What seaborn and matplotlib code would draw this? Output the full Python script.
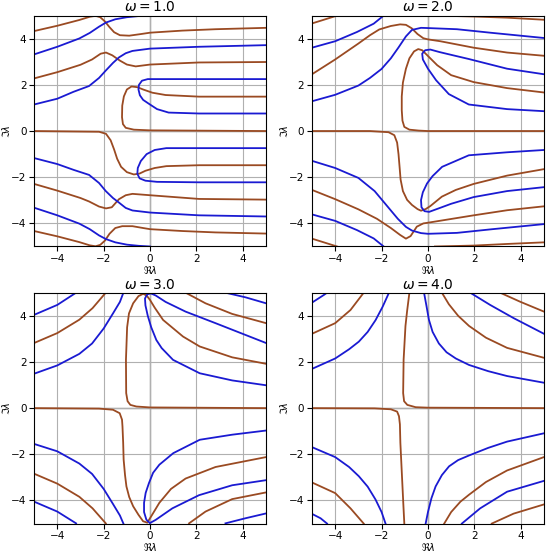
import numpy as np
import matplotlib
matplotlib.use("Agg")
import matplotlib.pyplot as plt
import seaborn as sns

# contour lines: blue = Re branch, brown = Im branch
omegas = [1.0, 2.0, 3.0, 4.0]

w1_blue = [
    [(-5, 3.32), (-4, 3.65), (-3.05, 4.01), (-2.6, 4.25), (-2.2, 4.52), (-1.9, 4.70), (-1.5, 4.84), (-1.0, 4.93), (-0.5, 4.98), (0, 5.0)],
    [(-5, 1.15), (-4, 1.40), (-3.3, 1.70), (-2.63, 1.95), (-2.2, 2.30), (-1.91, 2.62), (-1.6, 2.95), (-1.34, 3.19), (-1.05, 3.37), (-0.76, 3.47), (0, 3.57), (2.11, 3.65), (5, 3.72)],
    [(5, 2.25), (-0.1, 2.25), (-0.35, 2.18), (-0.48, 2.0), (-0.5, 1.8), (-0.44, 1.55), (-0.3, 1.35), (-0.05, 1.18), (0.3, 0.95), (0.8, 0.80), (2.11, 0.76), (5, 0.76)],
    [(5, -0.74), (0.7, -0.74), (0.2, -0.82), (-0.15, -1.0), (-0.4, -1.3), (-0.53, -1.6), (-0.55, -1.85), (-0.45, -2.05), (-0.2, -2.15), (0.3, -2.2), (2.11, -2.22), (5, -2.22)],
    [(-5, -1.17), (-4, -1.43), (-3.3, -1.68), (-2.63, -1.90), (-2.2, -2.25), (-1.91, -2.60), (-1.6, -2.90), (-1.34, -3.10), (-1.05, -3.33), (-0.76, -3.44), (0, -3.53), (2.11, -3.65), (5, -3.70)],
    [(-5, -3.32), (-4, -3.65), (-3.05, -4.01), (-2.6, -4.25), (-2.2, -4.52), (-1.9, -4.68), (-1.5, -4.82), (-1.0, -4.92), (-0.5, -4.97), (0, -5.0)],
]
w1_brown = [
    [(-5, 4.33), (-4, 4.56), (-3.05, 4.81), (-2.6, 4.95), (-2.35, 4.99), (-2.15, 4.93), (-1.95, 4.75), (-1.75, 4.50), (-1.55, 4.28), (-1.3, 4.15), (-0.9, 4.13), (-0.4, 4.20), (0, 4.26), (1.39, 4.35), (2.82, 4.41), (5, 4.47)],
    [(-5, 2.28), (-4, 2.55), (-3, 2.87), (-2.5, 3.10), (-2.13, 3.35), (-1.9, 3.40), (-1.63, 3.28), (-1.3, 3.05), (-1.0, 2.88), (-0.62, 2.80), (0, 2.88), (2.11, 2.97), (5, 2.99)],
    [(5, 1.49), (2.11, 1.49), (0.67, 1.56), (0.1, 1.66), (-0.3, 1.80), (-0.55, 1.90), (-0.8, 1.93), (-1.0, 1.80), (-1.13, 1.50), (-1.2, 1.10), (-1.21, 0.60), (-1.17, 0.30), (-1.05, 0.14), (-0.7, 0.06), (0, 0.03), (5, 0.0)],
    [(-5, 0), (-2.2, -0.03), (-1.9, -0.12), (-1.7, -0.40), (-1.55, -0.80), (-1.42, -1.20), (-1.25, -1.55), (-1.0, -1.78), (-0.7, -1.88), (-0.45, -1.84), (-0.2, -1.72), (0.2, -1.60), (0.7, -1.52), (2.11, -1.48), (5, -1.48)],
    [(-5, -2.29), (-4, -2.58), (-3, -2.90), (-2.63, -3.05), (-2.2, -3.27), (-1.9, -3.35), (-1.65, -3.30), (-1.34, -2.95), (-1.05, -2.78), (-0.76, -2.72), (0, -2.78), (2.11, -2.94), (5, -2.97)],
    [(-5, -4.33), (-4, -4.56), (-3.05, -4.81), (-2.6, -4.95), (-2.35, -4.99), (-2.15, -4.93), (-1.95, -4.75), (-1.75, -4.45), (-1.5, -4.20), (-1.2, -4.12), (-0.76, -4.12), (-0.3, -4.20), (0, -4.25), (1.39, -4.33), (2.82, -4.39), (5, -4.44)],
]

w2_blue = [
    [(-5, 3.61), (-4, 3.89), (-3.06, 4.29), (-2.34, 4.65), (-1.91, 5.0)],
    [(-5, 1.29), (-4, 1.57), (-3, 1.97), (-2.5, 2.30), (-2, 2.69), (-1.6, 3.15), (-1.27, 3.62), (-0.95, 4.10), (-0.69, 4.38), (-0.3, 4.47), (0, 4.46), (1.25, 4.41), (2.68, 4.26), (5, 4.03)],
    [(5, 0.86), (3.41, 0.95), (1.76, 1.15), (0.9, 1.60), (0.35, 2.20), (0.0, 2.70), (-0.22, 3.10), (-0.25, 3.35), (-0.12, 3.50), (0.1, 3.53), (0.5, 3.42), (1.0, 3.30), (1.76, 3.12), (3.41, 2.70), (5, 2.46)],
    [(5, -0.82), (3.41, -0.92), (1.76, -1.05), (0.61, -1.55), (0.2, -1.95), (-0.04, -2.27), (-0.22, -2.65), (-0.30, -2.99), (-0.28, -3.30), (-0.15, -3.47), (0.05, -3.50), (0.46, -3.35), (1.0, -3.15), (1.97, -2.86), (3.41, -2.60), (5, -2.43)],
    [(-5, -1.29), (-4, -1.60), (-3, -2.03), (-2.3, -2.60), (-1.8, -3.20), (-1.3, -3.80), (-0.95, -4.15), (-0.69, -4.31), (-0.3, -4.42), (0, -4.45), (1.25, -4.41), (2.68, -4.26), (5, -4.03)],
    [(-5, -3.61), (-4, -3.89), (-3.06, -4.29), (-2.34, -4.65), (-1.91, -5.0)],
]
w2_brown = [
    [(-5, 4.66), (-4.49, 4.82), (-3.92, 5.0)],
    [(-5, 2.46), (-4, 3.10), (-3, 3.79), (-2.5, 4.15), (-2.1, 4.40), (-1.6, 4.55), (-1.2, 4.62), (-0.95, 4.60), (-0.7, 4.45), (-0.45, 4.20), (-0.2, 4.02), (0, 3.97), (0.53, 3.89), (1.97, 3.61), (3.41, 3.40), (5, 3.26)],
    [(5, 1.67), (3.41, 1.86), (1.97, 2.12), (1.0, 2.42), (0.4, 2.85), (0.0, 3.25), (-0.25, 3.50), (-0.42, 3.55), (-0.6, 3.45), (-0.8, 3.15), (-0.95, 2.70), (-1.08, 2.10), (-1.13, 1.50), (-1.13, 0.90), (-1.1, 0.45), (-1.02, 0.18), (-0.8, 0.06), (-0.4, 0.02), (0, 0), (5, 0)],
    [(-5, 0), (-2.5, 0), (-1.7, -0.05), (-1.45, -0.18), (-1.33, -0.50), (-1.27, -1.0), (-1.22, -1.6), (-1.18, -2.1), (-1.08, -2.6), (-0.9, -2.98), (-0.69, -3.20), (-0.45, -3.38), (-0.3, -3.45), (-0.1, -3.38), (0.1, -3.25), (0.6, -2.84), (1.2, -2.55), (1.97, -2.29), (3.41, -1.93), (5, -1.65)],
    [(-5, -2.55), (-4, -2.95), (-3, -3.39), (-2.2, -3.80), (-1.6, -4.20), (-1.2, -4.50), (-0.95, -4.66), (-0.75, -4.55), (-0.48, -4.14), (-0.2, -4.0), (0, -3.97), (1.97, -3.65), (3.41, -3.43), (5, -3.26)],
    [(-5, -4.66), (-4.49, -4.82), (-3.92, -5.0)],
    [(0.39, 5.0), (1.97, 4.96), (3.41, 4.91), (5, 4.82)],
    [(0.30, -5.0), (1.97, -4.96), (3.41, -4.89), (5, -4.82)],
]

w3_blue = [
    [(-5, 4.04), (-4, 4.47), (-3.19, 5.0)],
    [(-5, 1.49), (-4, 1.85), (-3.05, 2.35), (-2.5, 2.80), (-2.0, 3.45), (-1.6, 4.10), (-1.3, 4.60), (-1.15, 5.0)],
    [(5, 0.99), (3.54, 1.20), (2.14, 1.51), (0.99, 2.09), (0.5, 2.60), (0.27, 2.95), (0.05, 3.50), (-0.1, 4.0), (-0.2, 4.45), (-0.22, 4.75), (-0.12, 4.93), (0.03, 4.97), (0.24, 4.88), (0.67, 4.60), (1.53, 4.18), (2.82, 3.68), (5, 2.82)],
    [(3.25, 5.0), (4.11, 4.80), (5, 4.54)],
    [(5, -0.97), (3.54, -1.15), (2.14, -1.37), (1.0, -1.95), (0.4, -2.45), (0.13, -2.80), (-0.05, -3.25), (-0.19, -3.67), (-0.26, -4.10), (-0.26, -4.50), (-0.16, -4.83), (-0.01, -4.98), (0.24, -4.84), (0.96, -4.34), (2.11, -3.77), (3.54, -3.34), (5, -3.12)],
    [(5, -4.56), (4.11, -4.77), (3.25, -4.99)],
    [(-5, -1.55), (-4, -1.87), (-3.05, -2.40), (-2.5, -2.85), (-2.0, -3.50), (-1.6, -4.15), (-1.3, -4.65), (-1.15, -5.0)],
    [(-5, -4.05), (-4, -4.48), (-3.19, -4.99)],
]
w3_brown = [
    [(-5, 2.82), (-4, 3.25), (-3.05, 3.83), (-2.48, 4.33), (-1.91, 5.0)],
    [(5, 1.92), (3.54, 2.20), (2.14, 2.67), (1.42, 3.10), (0.56, 3.82), (0.2, 4.35), (0, 4.68), (-0.15, 4.88), (-0.3, 4.95), (-0.5, 4.85), (-0.73, 4.54), (-0.91, 4.10), (-0.99, 3.50), (-1.04, 2.10), (-1.03, 0.65), (-0.97, 0.30), (-0.85, 0.14), (-0.59, 0.07), (0, 0.03), (5, 0)],
    [(1.53, 5.0), (2.39, 4.54), (3.54, 4.08), (5, 3.68)],
    [(-5, 0), (-2.2, -0.02), (-1.6, -0.07), (-1.31, -0.22), (-1.21, -0.50), (-1.19, -0.79), (-1.16, -1.50), (-1.14, -2.23), (-1.08, -2.90), (-1.02, -3.39), (-0.9, -3.85), (-0.73, -4.25), (-0.5, -4.62), (-0.3, -4.90), (-0.12, -4.96), (0.1, -4.60), (0.4, -4.10), (0.9, -3.50), (1.53, -3.05), (2.82, -2.55), (5, -2.12)],
    [(5, -3.65), (3.54, -3.94), (2.39, -4.48), (1.68, -4.99)],
    [(-5, -2.84), (-4, -3.27), (-3.05, -3.84), (-2.48, -4.34), (-1.91, -4.99)],
]

w4_blue = [
    [(-5, 4.57), (-4.49, 4.90), (-4.35, 5.0)],
    [(-5, 1.70), (-4, 2.15), (-3.4, 2.55), (-2.98, 2.88), (-2.6, 3.30), (-2.26, 3.81), (-1.95, 4.40), (-1.68, 5.0)],
    [(-0.17, 5.0), (-0.06, 4.40), (0.04, 3.83), (0.2, 3.30), (0.47, 2.80), (0.8, 2.42), (1.2, 2.15), (1.77, 1.87), (2.6, 1.60), (3.41, 1.39), (5, 1.10)],
    [(1.82, 5.0), (2.68, 4.47), (3.69, 3.90), (5, 3.22)],
    [(-5, -1.69), (-4, -2.12), (-3.4, -2.55), (-2.98, -2.95), (-2.6, -3.40), (-2.26, -3.96), (-2.0, -4.50), (-1.83, -5.0)],
    [(-5, -4.58), (-4.63, -4.77), (-4.35, -5.0)],
    [(-0.1, -5.0), (0.0, -4.50), (0.15, -3.90), (0.33, -3.39), (0.6, -2.90), (0.91, -2.52), (1.3, -2.25), (1.77, -2.05), (2.6, -1.72), (3.41, -1.45), (5, -1.09)],
    [(1.46, -5.0), (2.25, -4.34), (3.41, -3.62), (5, -3.15)],
]
w4_brown = [
    [(-5, 3.22), (-4, 3.68), (-3.34, 4.25), (-2.77, 5.0)],
    [(-0.8, 5.0), (-0.9, 4.20), (-0.97, 3.56), (-1.05, 2.10), (-1.07, 0.65), (-1.03, 0.30), (-0.89, 0.14), (-0.53, 0.04), (0, 0.02), (5, 0)],
    [(0.6, 5.0), (0.9, 4.50), (1.3, 4.00), (1.77, 3.56), (2.5, 3.05), (3.41, 2.61), (5, 2.18)],
    [(3.11, 5.0), (3.97, 4.61), (5, 4.18)],
    [(-5, 0), (-2.3, -0.01), (-1.6, -0.05), (-1.33, -0.15), (-1.25, -0.35), (-1.21, -0.70), (-1.19, -1.50), (-1.12, -2.96), (-1.06, -4.20), (-1.02, -5.0)],
    [(-5, -3.22), (-4, -3.68), (-3.34, -4.34), (-2.77, -5.0)],
    [(0.7, -5.0), (1.0, -4.50), (1.4, -4.05), (1.77, -3.75), (2.5, -3.20), (3.41, -2.70), (5, -2.12)],
    [(2.75, -5.0), (3.69, -4.57), (5, -4.17)],
]

blue_sets = [w1_blue, w2_blue, w3_blue, w4_blue]
brown_sets = [w1_brown, w2_brown, w3_brown, w4_brown]

BLUE = "#1a1ad2"
BROWN = "#9a4a22"

fig, axes = plt.subplots(2, 2, figsize=(5.5, 5.57), dpi=100)
fig.subplots_adjust(left=0.062, right=0.989, top=0.972, bottom=0.06,
                    wspace=0.198, hspace=0.2)

for ax, w, blues, browns in zip(axes.flat, omegas, blue_sets, brown_sets):
    ax.grid(True, color="#b0b0b0", linewidth=0.8)
    ax.axhline(0, color="#555555", linewidth=0.9, zorder=1)
    ax.axvline(0, color="#555555", linewidth=0.9, zorder=1)
    for curve in browns:
        pts = np.array(curve)
        sns.lineplot(x=pts[:, 0], y=pts[:, 1], sort=False, estimator=None,
                     color=BROWN, linewidth=1.3, ax=ax)
    for curve in blues:
        pts = np.array(curve)
        sns.lineplot(x=pts[:, 0], y=pts[:, 1], sort=False, estimator=None,
                     color=BLUE, linewidth=1.3, ax=ax)
    ax.set_xlim(-5, 5)
    ax.set_ylim(-5, 5)
    ax.set_xticks([-4, -2, 0, 2, 4])
    ax.set_yticks([-4, -2, 0, 2, 4])
    ax.tick_params(labelsize=7.5, pad=2)
    ax.set_title(rf"$\omega = {w:.1f}$", fontsize=10, pad=3)
    ax.set_xlabel(r"$\Re\lambda$", fontsize=7)
    ax.set_ylabel(r"$\Im\lambda$", fontsize=7)
    ax.xaxis.set_label_coords(0.5, -0.077)
    ax.yaxis.set_label_coords(-0.095, 0.5)

fig.savefig("out.png", dpi=100)
